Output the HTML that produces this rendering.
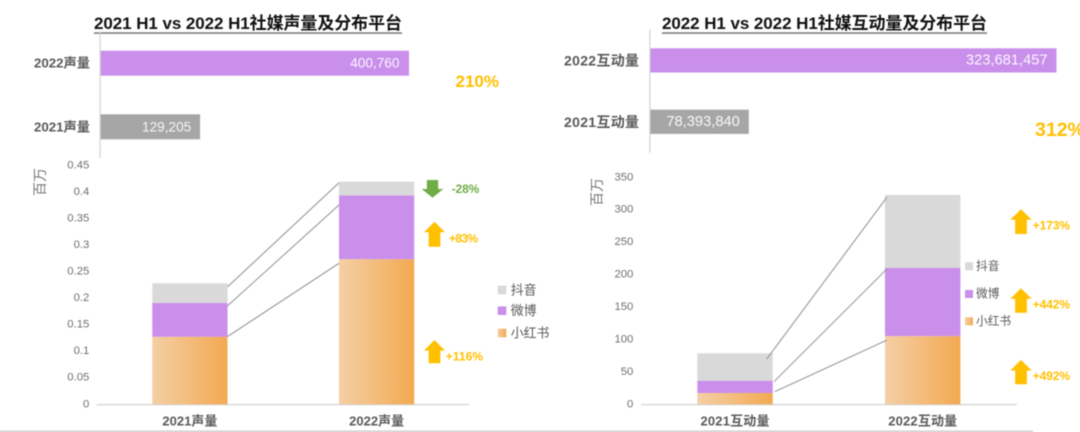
<!DOCTYPE html>
<html lang="zh">
<head>
<meta charset="utf-8">
<title>2021 H1 vs 2022 H1 社媒声量及互动量</title>
<style>
html,body{margin:0;padding:0;background:#fff;width:1080px;height:432px;overflow:hidden}
svg{display:block;filter:blur(0.4px);font-family:"Liberation Sans","Noto Sans CJK SC",sans-serif}
text{dominant-baseline:central}
</style>
</head>
<body>
<svg id="stage" xmlns="http://www.w3.org/2000/svg" width="1080" height="432" viewBox="0 0 1080 432">
  <defs>
    <linearGradient id="xhsGrad" x1="0" y1="0" x2="1" y2="0">
      <stop offset="0" stop-color="#f5cfa5"/>
      <stop offset="1" stop-color="#f3a951"/>
    </linearGradient>
  </defs>
  <rect width="1080" height="432" fill="#fff"/>
  <text x="94" y="23.5" font-size="17" font-weight="700" fill="#111" textLength="308">2021 H1 vs 2022 H1社媒声量及分布平台</text>
  <rect x="94" y="32.3" width="308" height="1.5" fill="#777"/>
  <text x="662" y="23.5" font-size="17" font-weight="700" fill="#111" textLength="325">2022 H1 vs 2022 H1社媒互动量及分布平台</text>
  <rect x="662" y="32.3" width="325" height="1.5" fill="#777"/>
  <text x="455.5" y="81.7" font-size="17" font-weight="700" fill="#ffc000">210%</text>
  <text x="1035" y="130" font-size="19.5" font-weight="700" fill="#ffc000">312%</text>
  <text transform="translate(40,182) rotate(-90)" text-anchor="middle" font-size="14" fill="#7a7a7a">百万</text>
  <text transform="translate(597,192) rotate(-90)" text-anchor="middle" font-size="14" fill="#7a7a7a">百万</text>
  <rect x="0" y="430.6" width="1033" height="1.4" fill="#c9c9c9"/>
  <g id="marks"></g>
</svg>
<script>
/* Left: voice volume */
const voiceTotalLabels = ['2022声量', '2021声量'];
const voiceTotals = [400760, 129205];
const voiceCategories = ['2021声量', '2022声量'];
const voiceTicks = [0, 0.05, 0.1, 0.15, 0.2, 0.25, 0.3, 0.35, 0.4, 0.45];
const voiceTickLabels = ['0', '0.05', '0.1', '0.15', '0.2', '0.25', '0.3', '0.35', '0.4', '0.45'];
const voiceXhs = [0.127, 0.273];
const voiceWeibo = [0.064, 0.1205];
const voiceDouyin = [0.037, 0.0256];
const voiceGrowth = ['+116%', '+83%', '-28%'];

/* Right: interaction volume */
const engageTotalLabels = ['2022互动量', '2021互动量'];
const engageTotals = [323681457, 78393840];
const engageCategories = ['2021互动量', '2022互动量'];
const engageTicks = [0, 50, 100, 150, 200, 250, 300, 350];
const engageTickLabels = ['0', '50', '100', '150', '200', '250', '300', '350'];
const engageXhs = [17.4, 105];
const engageWeibo = [19, 105.3];
const engageDouyin = [42.2, 112.5];
const engageGrowth = ['+492%', '+442%', '+173%'];

const legendNames = ['抖音', '微博', '小红书'];

const root = document.getElementById('marks');
const NS = 'http://www.w3.org/2000/svg';

function make(tag, attrs, name, text) {
  const el = document.createElementNS(NS, tag);
  for (const k in attrs) el.setAttribute(k, attrs[k]);
  
  
  if (text !== undefined) el.textContent = text;
  root.appendChild(el);
  return el;
}

function drawArrow(cx, top, bottom, headW, shaftW, headH, up, color, name) {
  const l = cx - headW / 2, r = cx + headW / 2, sl = cx - shaftW / 2, sr = cx + shaftW / 2;
  const pts = up
    ? [[cx, top], [r, top + headH], [sr, top + headH], [sr, bottom], [sl, bottom], [sl, top + headH], [l, top + headH]]
    : [[cx, bottom], [r, bottom - headH], [sr, bottom - headH], [sr, top], [sl, top], [sl, bottom - headH], [l, bottom - headH]];
  make('polygon', { points: pts.map(p => p.join(',')).join(' '), fill: color }, name);
}

function drawPanel(cfg) {
  /* horizontal totals */
  const hx = v => cfg.hLeft + v / cfg.hMax * cfg.hWidth;
  make('rect', { x: cfg.hLeft - 1.2, y: cfg.hAxisTop, width: 1.2, height: cfg.hAxisH, fill: '#d4d4d4' }, cfg.id + '-total-axis');
  cfg.totals.forEach((v, i) => {
    const y = cfg.hRows[i];
    const fill = i === 0 ? '#c98feb' : '#a6a6a6';
    make('rect', { x: cfg.hLeft, y: y, width: hx(v) - cfg.hLeft, height: cfg.hBarH, fill: fill }, cfg.id + '-total-bar-' + cfg.totalLabels[i]);
    make('text', { x: cfg.hLabelRight, y: y + cfg.hBarH / 2, 'text-anchor': 'end', 'font-size': cfg.hLabelFont, 'font-weight': 700, fill: '#595959', textLength: cfg.hLabelW }, cfg.id + '-total-label-' + cfg.totalLabels[i], cfg.totalLabels[i]);
    make('text', { x: hx(v) - cfg.hValuePad[i], y: y + cfg.hBarH / 2, 'text-anchor': 'end', 'font-size': cfg.hValueFont, fill: '#fbf6fd' }, cfg.id + '-total-value-' + cfg.totalLabels[i], v.toLocaleString('en-US'));
  });

  /* stacked columns */
  const ys = v => cfg.base - v / cfg.yMax * (cfg.base - cfg.top);
  cfg.ticks.forEach((t, i) => {
    make('text', { x: cfg.tickRight, y: ys(t), 'text-anchor': 'end', 'font-size': 11.3, fill: '#6f6f6f' }, cfg.id + '-y-tick-' + cfg.tickLabels[i], cfg.tickLabels[i]);
  });
  make('rect', { x: cfg.axisLeft, y: cfg.base - 0.3, width: cfg.axisRight - cfg.axisLeft, height: 1.3, fill: '#d4d4d4' }, cfg.id + '-x-axis');

  const cum = cfg.categories.map((c, i) => [cfg.xhs[i], cfg.xhs[i] + cfg.weibo[i], cfg.xhs[i] + cfg.weibo[i] + cfg.douyin[i]]);

  cfg.categories.forEach((c, i) => {
    const x = cfg.barX[i], w = cfg.barW;
    make('rect', { x: x, y: ys(cum[i][1]), width: w, height: ys(cum[i][0]) - ys(cum[i][1]), fill: '#c98feb' }, cfg.id + '-bar-weibo-' + c);
    make('rect', { x: x, y: ys(cum[i][2]), width: w, height: ys(cum[i][1]) - ys(cum[i][2]), fill: '#d9d9d9' }, cfg.id + '-bar-douyin-' + c);
    make('rect', { x: x, y: ys(cum[i][0]), width: w, height: cfg.base - ys(cum[i][0]), fill: 'url(#xhsGrad)' }, cfg.id + '-bar-xiaohongshu-' + c);
    make('text', { x: x + w / 2, y: 421, 'text-anchor': 'middle', 'font-size': 13, 'font-weight': 700, fill: '#595959', textLength: cfg.catW }, cfg.id + '-x-label-' + c, c);
  });

  /* connectors: series index 2 = douyin, 1 = weibo, 0 = xiaohongshu */
  [2, 1, 0].forEach((s, k) => {
    const o = cfg.connectors[k];
    make('line', {
      x1: o.x1, y1: ys(cum[0][s]) + o.d1,
      x2: o.x2, y2: ys(cum[1][s]) + o.d2,
      stroke: '#8f8f8f', 'stroke-width': 1
    }, cfg.id + '-connector-' + legendNames[k]);
  });

  /* growth arrows */
  cfg.arrows.forEach((a, i) => {
    const label = cfg.growth[i];
    const up = label.charAt(0) === '+';
    const color = up ? '#ffc000' : '#70ad47';
    drawArrow(a.cx, a.top, a.bottom, a.hw, a.sw, a.hh, up, color, cfg.id + '-growth-arrow-' + i);
    make('text', { x: a.tx, y: a.ty, 'font-size': 12, 'font-weight': 700, fill: color, textLength: a.tl }, cfg.id + '-growth-label-' + i, label);
  });

  /* legend */
  legendNames.forEach((n, i) => {
    const y = cfg.legendY[i];
    const fill = ['#d9d9d9', '#c98feb', 'url(#xhsGrad)'][i];
    make('rect', { x: cfg.legendX, y: y - cfg.swatch / 2, width: cfg.swatch, height: cfg.swatch, fill: fill }, cfg.id + '-legend-swatch-' + n);
    make('text', { x: cfg.legendTextX, y: y, 'font-size': cfg.legendFont, fill: '#595959' }, cfg.id + '-legend-label-' + n, n);
  });
}

drawPanel({
  id: 'voice',
  totals: voiceTotals, totalLabels: voiceTotalLabels,
  hLeft: 100.7, hMax: 400760, hWidth: 308.3, hRows: [50.7, 114.3], hBarH: 25,
  hAxisTop: 31.7, hAxisH: 126.6, hLabelRight: 90, hLabelFont: 13.3, hLabelW: 56, hValueFont: 13.6, hValuePad: [9.6, 8.9],
  categories: voiceCategories, ticks: voiceTicks, tickLabels: voiceTickLabels, catW: 55,
  xhs: voiceXhs, weibo: voiceWeibo, douyin: voiceDouyin, growth: voiceGrowth,
  base: 404.3, top: 165.3, yMax: 0.45, tickRight: 89.3,
  axisLeft: 96.7, axisRight: 469, barX: [152.3, 339], barW: 75.2,
  connectors: [
    { x1: 227.5, d1: 3.7, x2: 339, d2: 1 },
    { x1: 227.5, d1: 3, x2: 339, d2: 9.7 },
    { x1: 227.5, d1: -0.3, x2: 339, d2: 4 }
  ],
  arrows: [
    { cx: 434.5, top: 340, bottom: 363.3, hw: 21, sw: 11.7, hh: 10.6, tx: 445.7, ty: 356.7, tl: 37.3 },
    { cx: 434.5, top: 221.7, bottom: 246.7, hw: 21, sw: 11.7, hh: 10.6, tx: 449, ty: 238.3, tl: 29 },
    { cx: 432.5, top: 180, bottom: 197.7, hw: 21.6, sw: 11.3, hh: 8.7, tx: 451.7, ty: 189, tl: 27.6 }
  ],
  legendX: 497.7, legendTextX: 510.7, legendY: [290, 310.7, 333], swatch: 8.6, legendFont: 12.9
});

drawPanel({
  id: 'engage',
  totals: engageTotals, totalLabels: engageTotalLabels,
  hLeft: 650.5, hMax: 323681457, hWidth: 406, hRows: [48.3, 109.7], hBarH: 24.2,
  hAxisTop: 29.3, hAxisH: 123.4, hLabelRight: 639, hLabelFont: 14, hLabelW: 75, hValueFont: 14.7, hValuePad: [8.9, 9],
  categories: engageCategories, ticks: engageTicks, tickLabels: engageTickLabels, catW: 69,
  xhs: engageXhs, weibo: engageWeibo, douyin: engageDouyin, growth: engageGrowth,
  base: 404.3, top: 177.3, yMax: 350, tickRight: 633.3,
  axisLeft: 641, axisRight: 1016.7, barX: [697.3, 885], barW: 75.4,
  connectors: [
    { x1: 766.7, d1: 5.7, x2: 886.7, d2: 2.6 },
    { x1: 774, d1: 1, x2: 886.7, d2: 1.3 },
    { x1: 774.7, d1: -1.3, x2: 886.7, d2: 4 }
  ],
  arrows: [
    { cx: 1021, top: 360, bottom: 384.3, hw: 21.4, sw: 11.7, hh: 10.5, tx: 1032.7, ty: 376, tl: 37.3 },
    { cx: 1021, top: 288.3, bottom: 312.7, hw: 21.4, sw: 11.7, hh: 10.5, tx: 1032.7, ty: 304.3, tl: 37.3 },
    { cx: 1021, top: 209.3, bottom: 234, hw: 21.4, sw: 11.7, hh: 10.5, tx: 1032.7, ty: 225.7, tl: 37.3 }
  ],
  legendX: 965, legendTextX: 976, legendY: [266.3, 294, 321.3], swatch: 8, legendFont: 11.7
});
</script>
</body>
</html>
